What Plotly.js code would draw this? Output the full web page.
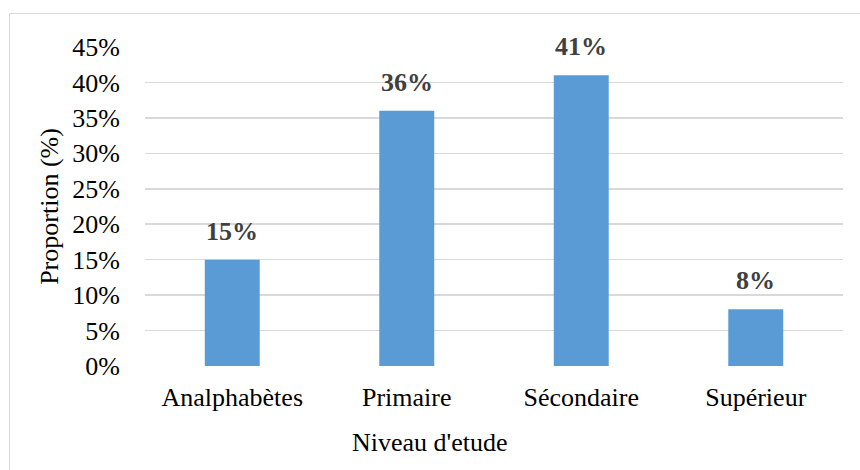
<!DOCTYPE html>
<html>
<head>
<meta charset="utf-8">
<script src="https://cdn.plot.ly/plotly-3.0.1.min.js"></script>
<style>
  html, body { margin: 0; padding: 0; background: #fff; }
  #wrap { position: relative; width: 860px; height: 470px; overflow: hidden; }
  #frame { position: absolute; left: 9px; top: 13px; width: 900px; height: 500px; border: 1.5px solid #d9d9d9; box-sizing: border-box; }
  #chart { position: absolute; left: 0; top: 0; width: 860px; height: 470px; }
</style>
</head>
<body>
<div id="wrap">
  <div id="frame"></div>
  <div id="chart"></div>
</div>
<script>
const categories = ["Analphabètes", "Primaire", "Sécondaire", "Supérieur"];
const values = [15, 36, 41, 8];
const valueLabels = ["15%", "36%", "41%", "8%"];
const yTickValues = [0, 5, 10, 15, 20, 25, 30, 35, 40, 45];
const yTickLabels = ["0%", "5%", "10%", "15%", "20%", "25%", "30%", "35%", "40%", "45%"];

const serif = "Liberation Serif";
const fs = 26;

const trace = {
  type: "bar",
  x: categories,
  y: values,
  cliponaxis: false,
  marker: { color: "#5B9BD5" },
  hoverinfo: "none"
};

const labelAnnotations = categories.map((c, i) => ({
  x: c, y: values[i], xref: "x", yref: "y",
  text: "<b>" + valueLabels[i] + "</b>",
  showarrow: false,
  xanchor: "center", yanchor: "bottom",
  yshift: 12,
  font: { family: serif, size: 26, color: "#404040" }
}));

const layout = {
  width: 860,
  height: 470,
  margin: { l: 145, r: 17, t: 47, b: 104 },
  paper_bgcolor: "rgba(0,0,0,0)",
  plot_bgcolor: "rgba(0,0,0,0)",
  bargap: 0.685,
  showlegend: false,
  font: { family: serif, size: fs, color: "#000" },
  xaxis: {
    type: "category",
    showgrid: false,
    zeroline: false,
    showline: false,
    ticks: "",
    ticklabelstandoff: 13,
    tickfont: { family: serif, size: fs, color: "#000" }
  },
  yaxis: {
    range: [0, 45],
    tickvals: yTickValues,
    ticktext: yTickLabels,
    showgrid: true,
    gridcolor: "#d9d9d9",
    gridwidth: 1.5,
    zeroline: false,
    showline: false,
    ticks: "",
    ticklabelstandoff: 24,
    tickfont: { family: serif, size: fs, color: "#000" },
    title: { text: "Proportion (%)", font: { family: serif, size: fs, color: "#000" }, standoff: 6 }
  },
  annotations: labelAnnotations.concat([{
    text: "Niveau d'etude",
    xref: "paper", yref: "paper",
    x: (430 - 145) / 698, y: -(442 - 366) / 319,
    xanchor: "center", yanchor: "middle",
    showarrow: false,
    font: { family: serif, size: fs, color: "#000" }
  }])
};

Plotly.newPlot("chart", [trace], layout, { staticPlot: true, displayModeBar: false });
</script>
</body>
</html>
